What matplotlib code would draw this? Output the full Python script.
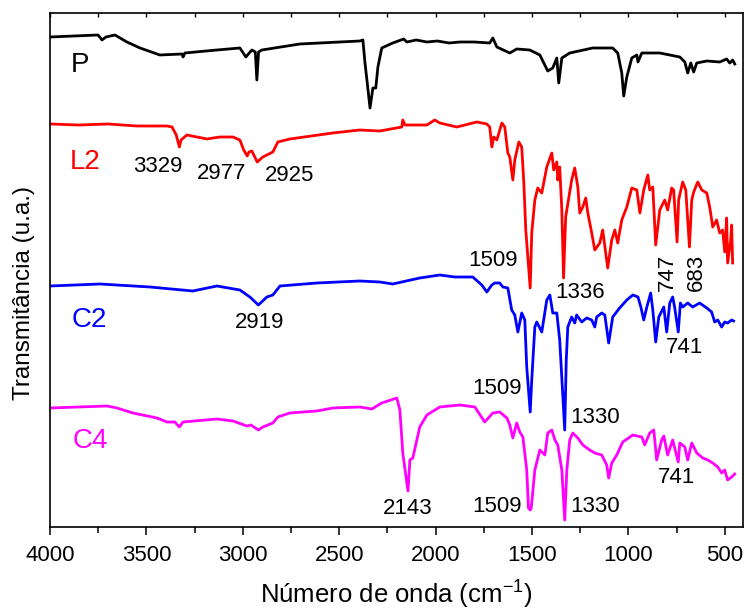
import matplotlib
matplotlib.use("Agg")
import matplotlib.pyplot as plt
from matplotlib.ticker import MultipleLocator

plt.rcParams['font.family'] = ['Liberation Sans', 'DejaVu Sans']
plt.rcParams['mathtext.fontset'] = 'custom'
plt.rcParams['mathtext.rm'] = 'Liberation Sans'
plt.rcParams['mathtext.it'] = 'Liberation Sans'

# FTIR spectra (wavenumber in cm-1, transmittance in arbitrary offset units)
p_wn = [4000, 3751, 3730, 3710, 3663, 3601, 3533, 3430, 3315, 3310, 3300, 3134, 3015,
        2984, 2953, 2935, 2927, 2918, 2901, 2704, 2393, 2377, 2366, 2356, 2340, 2325,
        2310, 2299, 2279, 2222, 2165, 2149, 2100, 2045, 1990, 1930, 1874, 1800, 1719,
        1703, 1682, 1615, 1579, 1511, 1459, 1418, 1392, 1371, 1361, 1345, 1304, 1185,
        1081, 1055, 1034, 1024, 1008, 982, 956, 950, 930, 837, 733, 707, 692, 676, 661,
        645, 593, 526, 490, 474, 459, 448]
p_t = [490, 492, 487, 490, 492, 485, 479, 472, 473, 470, 474, 477, 479,
       470, 477, 475, 447, 475, 477, 483, 486, 487, 464, 447, 419, 439,
       439, 460, 479, 484, 488, 485, 487, 485, 486, 484, 485, 485, 484,
       489, 480, 474, 478, 477, 472, 456, 459, 469, 444, 469, 474, 479,
       479, 474, 454, 431, 450, 469, 472, 465, 474, 474, 470, 465, 454, 464, 455,
       464, 466, 465, 468, 464, 467, 463]

l2_wn = [4000, 3850, 3700, 3550, 3393, 3367, 3345, 3329, 3320, 3290, 3186, 3119, 3051,
         3015, 2995, 2977, 2968, 2953, 2925, 2896, 2844, 2818, 2756, 2533, 2393, 2289,
         2175, 2170, 2159, 2045, 2004, 1978, 1890, 1786, 1734, 1719, 1708, 1698, 1682,
         1656, 1641, 1625, 1615, 1599, 1589, 1568, 1553, 1542, 1532, 1509, 1501, 1485,
         1470, 1449, 1423, 1397, 1387, 1371, 1366, 1356, 1345, 1336, 1325, 1294, 1278,
         1262, 1252, 1236, 1221, 1210, 1190, 1174, 1148, 1133, 1107, 1086, 1070, 1055,
         1034, 1008, 982, 956, 940, 920, 899, 889, 873, 858, 837, 811, 796, 775, 765,
         747, 739, 718, 702, 683, 671, 661, 640, 619, 593, 578, 562, 542, 526, 511,
         500, 490, 485, 469, 464, 459]
l2_t = [403, 402, 403, 401, 401, 400, 392, 380, 387, 392, 388, 390, 390,
        387, 377, 371, 375, 376, 365, 370, 375, 385, 388, 394, 397, 396,
        400, 407, 402, 402, 407, 404, 400, 405, 403, 400, 380, 390, 387,
        404, 400, 374, 370, 347, 367, 385, 380, 344, 297, 239, 294, 327,
        339, 334, 360, 374, 357, 365, 347, 360, 317, 249, 310, 347, 359,
        340, 314, 320, 329, 314, 294, 277, 284, 297, 259, 287, 297, 284,
        307, 320, 339, 337, 314, 337, 352, 337, 340, 282, 317, 327, 317, 339, 337,
        285, 327, 345, 337, 280, 327, 335, 345, 337, 334, 320, 300, 307, 294, 297,
        275, 309, 264, 287, 302, 264]

c2_wn = [4000, 3741, 3482, 3259, 3134, 3015, 2963, 2919, 2875, 2844, 2807, 2616, 2393,
         2289, 2222, 2082, 1978, 1900, 1807, 1760, 1734, 1708, 1693, 1667, 1651, 1625,
         1605, 1589, 1573, 1553, 1537, 1527, 1509, 1501, 1485, 1475, 1449, 1423, 1407,
         1392, 1371, 1356, 1330, 1322, 1314, 1294, 1278, 1268, 1242, 1216, 1190, 1174,
         1164, 1138, 1122, 1102, 1081, 1045, 1008, 977, 950, 935, 920, 904, 884, 873,
         858, 842, 816, 801, 785, 770, 760, 741, 730, 718, 692, 666, 630, 593, 568, 552,
         536, 516, 500, 485, 464, 454]
c2_t = [241, 243, 240, 236, 241, 237, 230, 222, 230, 232, 241, 244, 246,
        245, 243, 249, 252, 250, 250, 242, 235, 242, 244, 244, 240, 239,
        217, 212, 195, 214, 207, 160, 115, 147, 200, 205, 195, 227, 232,
        214, 214, 187, 97, 167, 200, 210, 204, 212, 205, 209, 207, 200,
        210, 214, 212, 184, 210, 219, 227, 232, 230, 220, 207, 220, 234, 217,
        185, 210, 220, 195, 224, 230, 220, 195, 224, 220, 224, 220, 224, 219, 215, 205,
        207, 200, 205, 204, 207, 206]

c4_wn = [4000, 3704, 3653, 3570, 3445, 3393, 3352, 3329, 3310, 3134, 3051, 2979, 2958,
         2919, 2896, 2844, 2818, 2756, 2616, 2533, 2393, 2330, 2305, 2279, 2201, 2185,
         2170, 2143, 2133, 2118, 2082, 2045, 1978, 1874, 1796, 1745, 1703, 1667, 1630,
         1615, 1599, 1579, 1563, 1547, 1527, 1518, 1509, 1503, 1485, 1459, 1433, 1418,
         1397, 1381, 1366, 1345, 1330, 1319, 1304, 1288, 1262, 1236, 1200, 1174, 1138,
         1112, 1102, 1086, 1060, 1029, 977, 930, 915, 889, 868, 853, 827, 816, 796, 770,
         741, 733, 707, 692, 671, 645, 614, 588, 562, 536, 516, 500, 485, 464, 448]
c4_t = [119, 121, 119, 114, 109, 105, 105, 100, 105, 108, 106, 101, 102,
        97, 100, 104, 110, 114, 116, 119, 120, 118, 121, 124, 129, 117,
        74, 36, 67, 69, 100, 112, 120, 122, 120, 105, 114, 115, 109,
        102, 89, 104, 95, 90, 57, 19, 17, 20, 57, 77, 72, 94,
        97, 87, 82, 57, 7, 57, 87, 94, 89, 82, 77, 74, 72,
        62, 49, 64, 72, 85, 92, 90, 82, 94, 97, 67, 87, 91, 72, 87,
        65, 84, 80, 67, 84, 74, 69, 67, 64, 60, 54, 57, 47, 50, 53]

series = [
    ("P", p_wn, p_t, "black"),
    ("L2", l2_wn, l2_t, "red"),
    ("C2", c2_wn, c2_t, "blue"),
    ("C4", c4_wn, c4_t, "magenta"),
]

# sample names placed beside each spectrum
name_pos = {"P": (3844, 462), "L2": (3819, 365), "C2": (3798, 207), "C4": (3793, 86)}

# band assignments: (text, x, y, rotation)
band_labels = [
    ("3329", 3440, 360, 0), ("2977", 3108, 353, 0), ("2925", 2756, 351, 0),
    ("2919", 2911, 204, 0),
    ("1509", 1703, 266, 0), ("1336", 1252, 234, 0),
    ("747", 796, 255, 90), ("683", 645, 255, 90),
    ("741", 707, 179, 0), ("1509", 1682, 138, 0), ("1330", 1174, 109, 0),
    ("2143", 2144, 18, 0), ("1509", 1682, 20, 0), ("1330", 1174, 20, 0),
    ("741", 749, 49, 0),
]

fig = plt.figure(figsize=(7.44, 6.13), dpi=100)
ax = fig.add_axes([0.0672, 0.1403, 0.9315, 0.8385])

for name, wn, t, col in series:
    ax.plot(wn, t, color=col, lw=2.0, solid_joinstyle='round')
    x, y = name_pos[name]
    ax.text(x, y, name, color=col, fontsize=20, ha='center', va='center')

for txt, x, y, rot in band_labels:
    ax.text(x, y, txt, color='black', fontsize=16, ha='center', va='center', rotation=rot)

ax.set_xlim(4000, 405)
ax.set_ylim(0, 514)
ax.xaxis.set_major_locator(MultipleLocator(500))
ax.xaxis.set_minor_locator(MultipleLocator(250))
ax.set_yticks([])
ax.tick_params(axis='x', which='major', direction='out', length=6, width=1.1,
               labelsize=16, pad=7, top=False)
ax.tick_params(axis='x', which='minor', direction='out', length=4, width=1.1, top=False)

# top axis mirrors the tick positions without labels
sec = ax.secondary_xaxis('top')
sec.xaxis.set_major_locator(MultipleLocator(500))
sec.xaxis.set_minor_locator(MultipleLocator(250))
sec.tick_params(which='both', direction='in', length=3, width=1.0, labeltop=False)
sec.spines['top'].set_visible(False)

for s in ax.spines.values():
    s.set_linewidth(1.2)

# axis titles
fig.text(0.533, 0.0155, 'Número de onda (cm$^{-1}$)', fontsize=18.5,
         ha='center', va='baseline')
ax.set_ylabel('Transmitância (u.a.)', fontsize=17.5)
ax.yaxis.set_label_coords(-0.0216, 0.455)

fig.savefig('out.png', dpi=100)
